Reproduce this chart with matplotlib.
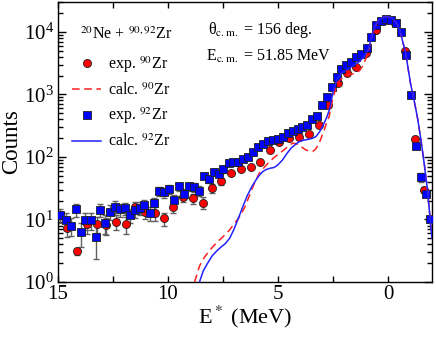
import numpy as np
import matplotlib
matplotlib.use('Agg')
import matplotlib.pyplot as plt
from matplotlib.ticker import MultipleLocator, LogLocator, NullFormatter

plt.rcParams['font.family'] = 'serif'
plt.rcParams['font.serif'] = ['Liberation Serif', 'DejaVu Serif']
plt.rcParams['mathtext.fontset'] = 'stix'

# exp. 92Zr (blue squares)
e92 = [14.9, 14.65, 14.43, 14.2, 13.96, 13.75, 13.52, 13.29, 13.08, 12.86, 12.63, 12.4,
       12.18, 11.96, 11.72, 11.51, 11.28, 11.07, 10.83, 10.62, 10.39, 10.17, 9.94, 9.73,
       9.49, 9.28, 9.05, 8.82, 8.6, 8.38, 8.16, 7.93, 7.7, 7.49, 7.25, 7.03, 6.8, 6.57,
       6.35, 6.13, 5.91, 5.68, 5.45, 5.23, 5.0, 4.77, 4.57, 4.34, 4.11, 3.91, 3.69, 3.46,
       3.23, 3.01, 2.78, 2.55, 2.34, 2.12, 1.89, 1.67, 1.44, 1.21, 0.98, 0.76, 0.56, 0.33,
       0.11, -0.12, -0.35, -0.57, -0.83, -1.05, -1.25, -1.48, -1.73, -1.9]
c92 = [11.8, 9.8, 7.95, 14.5, 6.2, 9.7, 9.7, 5.3, 14.4, 8.8, 13.3, 16,
       14.5, 15.1, 11.8, 14.2, 15.3, 16.9, 12.6, 18.2, 28.6, 27.2, 30.8, 20.5,
       34, 26, 34, 33, 29, 50, 44, 57, 53, 63, 81, 82, 83, 93,
       101, 119, 146, 159, 180, 187, 191, 211, 245, 264, 278, 305, 325, 406,
       458, 675, 922, 1300, 1880, 2560, 2970, 3350, 3970, 4450, 5470, 8200, 12800, 15200,
       15900, 15500, 13800, 9800, 4300, 980, 150, 48, 25.6, 10]
err92 = [3, 3, 2.5, 3.5, 2.6, 3, 3, 3, 3.5, 3, 3.5, 4,
         3.5, 3.5, 3, 3.5, 3.5, 3.5, 3, 4, 5, 5, 5, 4,
         5, 4.5, 5, 5, 5, 6, 6, 6, 6, 7, 0, 0, 0, 0,
         0, 0, 0, 0, 0, 0, 0, 0, 0, 0, 0, 0, 0, 0,
         0, 0, 0, 0, 0, 0, 0, 0, 0, 0, 0, 0, 0, 0,
         0, 0, 0, 0, 0, 0, 0, 8, 0, 0]

# exp. 90Zr (red circles)
e90 = [14.58, 14.13, 13.67, 13.23, 12.8, 12.37, 11.92, 11.5, 11.06, 10.6, 10.18, 9.76,
       9.3, 8.87, 8.42, 7.99, 7.57, 7.12, 6.68, 6.24, 5.8, 5.36, 4.94, 4.52, 4.03, 3.58,
       3.16, 2.71, 2.28, 1.85, 1.44, 1.01, 0.56, 0.12, -0.32, -0.76, -1.22, -1.63]
c90 = [7.2, 3.1, 8.4, 8.5, 8.2, 9.2, 8.4, 15.7, 13.3, 12.6, 10.4, 15.7,
       22.7, 21.8, 18.6, 32, 41, 55, 63, 70, 84, 129, 172, 204, 211, 234,
       320, 675, 1510, 2230, 2790, 4540, 10700, 15500, 14000, 5000, 195, 30]
err90 = [2, 0.4, 2.5, 2.5, 2.5, 2.5, 2.5, 3, 3, 3, 2.5, 3,
         4, 4, 4, 5, 5, 0, 0, 0, 0, 0, 0, 0, 0, 0,
         0, 0, 0, 0, 0, 0, 0, 0, 0, 0, 0, 3]

# calc. 92Zr
ce92 = [8.57, 8.4, 8.2, 8.0, 7.8, 7.6, 7.4, 7.2, 7.0, 6.8, 6.6, 6.4, 6.2, 6.0, 5.85, 5.7,
        5.54, 5.35, 5.17, 5.0, 4.79, 4.6, 4.41, 4.2, 4.03, 3.85, 3.66, 3.45, 3.28, 3.12,
        2.98, 2.8, 2.68, 2.55, 2.45, 2.3, 2.15, 1.95, 1.76, 1.54, 1.31, 1.09, 0.95, 0.86,
        0.71, 0.56, 0.41, 0.2, 0.03, -0.2, -0.4, -0.57, -0.8, -1.02, -1.2, -1.35, -1.5,
        -1.65, -1.8, -1.97, -2.0]
cc92 = [1.0, 1.5, 2.0, 2.6, 3.1, 3.6, 4.1, 5.0, 7.0, 10.5, 16, 24, 33, 43, 51, 58,
        63, 66, 68, 75, 90, 113, 138, 160, 176, 185, 190, 198, 211, 250,
        305, 420, 550, 900, 1300, 1800, 2150, 2400, 2630, 2960, 3350, 4000, 4900, 5800,
        9500, 13000, 15500, 17200, 17600, 16500, 13500, 9500, 4550, 1500, 750, 400, 180,
        75, 28, 6, 5]

# calc. 90Zr
ce90 = [8.79, 8.57, 8.34, 8.11, 7.81, 7.5, 7.2, 7.0, 6.75, 6.5, 6.3, 6.15, 6.0, 5.85,
        5.6, 5.39, 5.15, 4.94, 4.79, 4.64, 4.5, 4.34, 4.2, 4.03, 3.88, 3.73, 3.58, 3.43,
        3.28, 3.13, 3.0, 2.9, 2.8, 2.68, 2.53, 2.38, 2.22, 2.0, 1.75, 1.54, 1.3, 1.17,
        1.0, 0.86, 0.71, 0.56, 0.41, 0.2, 0.03, -0.2, -0.4, -0.57, -0.8, -1.02, -1.2,
        -1.35, -1.5, -1.65, -1.8, -1.97, -2.0]
cc90 = [1.0, 1.8, 2.5, 3.2, 4.2, 5.3, 6.8, 8.5, 11, 16, 24, 33, 43, 55,
        70, 84, 100, 114, 125, 138, 152, 166, 163, 155, 140, 129, 124, 122,
        135, 166, 220, 270, 350, 440, 800, 1250, 1650, 1950, 2100, 2150, 2400, 2790,
        3800, 5500, 9300, 12800, 15400, 17200, 17600, 16500, 13500, 9500, 4550, 1500, 750,
        400, 180, 75, 28, 6, 5]

fig = plt.figure(figsize=(4.36, 3.41), dpi=100)
ax = fig.add_axes([0.133, 0.173, 0.858, 0.821])

ax.errorbar(e92, c92, yerr=err92, fmt='none', ecolor='#606060', elinewidth=1,
            capsize=2.5, capthick=1, zorder=2)
ax.errorbar(e90, c90, yerr=err90, fmt='none', ecolor='#606060', elinewidth=1,
            capsize=2.5, capthick=1, zorder=2)

ax.plot(e90, c90, 'o', ms=5.8, mfc='#ff0000', mec='#202020', mew=0.6,
        label=r'exp. $^{90}$Zr', zorder=3)
ax.plot(ce90, cc90, color='#ff2020', lw=1.1, ls=(0, (5, 3)),
        label=r'calc. $^{90}$Zr', zorder=4)
ax.plot(e92, c92, 's', ms=5.3, mfc='#0000ff', mec='#202020', mew=0.6,
        label=r'exp. $^{92}$Zr', zorder=3)
ax.plot(ce92, cc92, color='#2222ff', lw=1.1,
        label=r'calc. $^{92}$Zr', zorder=4)

ax.set_yscale('log')
ax.set_xlim(15, -2)
ax.set_ylim(1, 3e4)

ax.xaxis.set_major_locator(MultipleLocator(5))
ax.xaxis.set_minor_locator(MultipleLocator(2.5))
ax.yaxis.set_major_locator(LogLocator(base=10, numticks=10))
ax.yaxis.set_minor_locator(LogLocator(base=10, subs=np.arange(2, 10), numticks=10))
ax.yaxis.set_minor_formatter(NullFormatter())

ax.tick_params(which='both', direction='in', top=True, right=True, labelsize=15)
ax.tick_params(axis='x', which='both', length=4, width=1, pad=2)
ax.tick_params(axis='y', which='major', length=6, width=1, pad=3)
ax.tick_params(axis='y', which='minor', length=3.5, width=1)
for sp in ax.spines.values():
    sp.set_linewidth(1.0)

ax.set_xlabel(r'E$^*$ (MeV)', fontsize=16, labelpad=0)
ax.set_ylabel('Counts', fontsize=16.5, labelpad=1)

ax.text(0.06, 0.885, r'$^{20}$Ne + $^{90,92}$Zr', transform=ax.transAxes,
        fontsize=11.5, ha='left', va='center')
ax.text(0.4, 0.9, r'θ$_{\rm c.m.}$ = 156 deg.', transform=ax.transAxes,
        fontsize=11.5, ha='left', va='center')
ax.text(0.395, 0.805, r'E$_{\rm c.m.}$ = 51.85 MeV', transform=ax.transAxes,
        fontsize=11.5, ha='left', va='center')

leg = ax.legend(loc='upper left', bbox_to_anchor=(0.03, 0.825), frameon=False,
                fontsize=11.5, handlelength=1.8, handletextpad=0.45,
                labelspacing=0.45, borderaxespad=0, borderpad=0.2)

fig.savefig('out.png', dpi=100)
